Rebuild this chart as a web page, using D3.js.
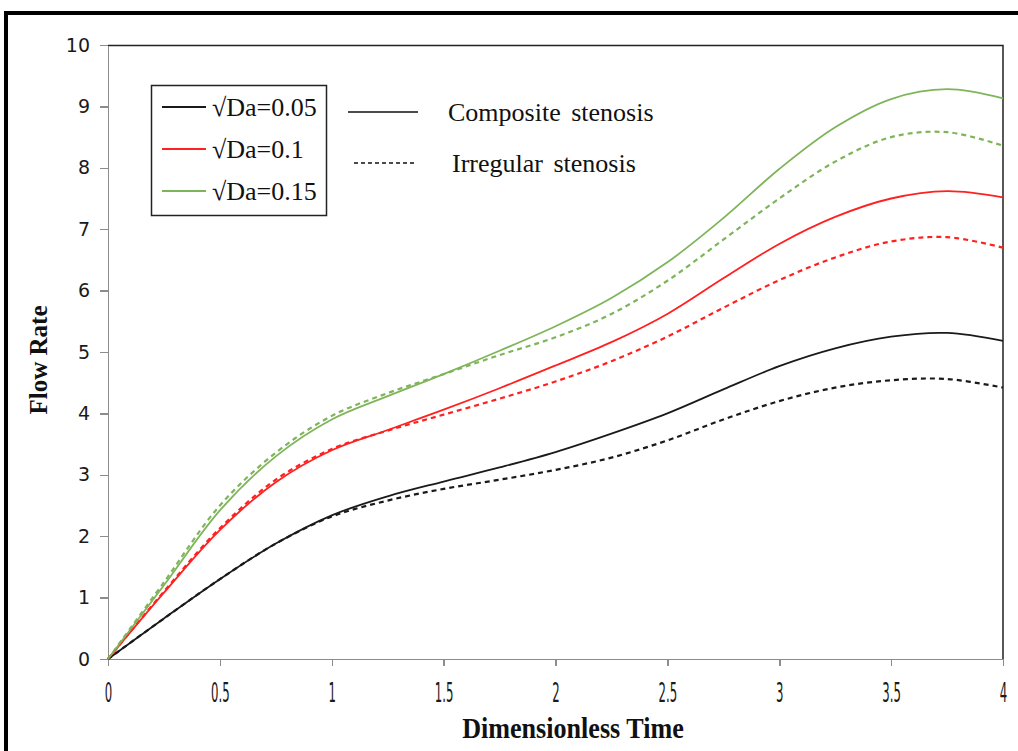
<!DOCTYPE html>
<html>
<head>
<script src="https://d3js.org/d3.v7.min.js"></script>
<style>
  body { margin: 0; background: #fff; }
  svg { display: block; }
  .axis path, .axis line { stroke: #8c8c8c; stroke-width: 1.5; shape-rendering: crispEdges; }
  .y.axis text { font: 19px "DejaVu Sans", sans-serif; fill: #1a1a1a; }
  .x.axis text { font: 26px "DejaVu Sans Condensed", sans-serif; fill: #1a1a1a; }
  .title { font-family: "Liberation Serif", serif; font-weight: bold; fill: #111; }
  .legend text { font-family: "Liberation Serif", serif; font-size: 26px; fill: #111; }
</style>
</head>
<body>
<script>
// dimensionless time samples
var times = [0, 0.25, 0.5, 0.75, 1, 1.25, 1.5, 1.75, 2, 2.25, 2.5, 2.75, 3, 3.25, 3.5, 3.75, 4];

// flow rate, composite stenosis
var compDa005 = [0, 0.66, 1.3, 1.88, 2.34, 2.65, 2.89, 3.12, 3.37, 3.67, 4.0, 4.39, 4.77, 5.06, 5.25, 5.31, 5.18];
var compDa01  = [0, 1.08, 2.1, 2.88, 3.4, 3.73, 4.06, 4.41, 4.78, 5.16, 5.62, 6.2, 6.76, 7.2, 7.5, 7.62, 7.52];
var compDa015 = [0, 1.2, 2.42, 3.3, 3.9, 4.28, 4.64, 5.02, 5.42, 5.88, 6.46, 7.18, 7.98, 8.66, 9.12, 9.28, 9.13];

// flow rate, irregular stenosis
var irrDa005 = [0, 0.66, 1.3, 1.88, 2.32, 2.58, 2.77, 2.92, 3.08, 3.28, 3.56, 3.9, 4.2, 4.42, 4.54, 4.56, 4.42];
var irrDa01  = [0, 1.1, 2.13, 2.92, 3.42, 3.72, 3.98, 4.24, 4.52, 4.85, 5.25, 5.72, 6.17, 6.54, 6.8, 6.87, 6.7];
var irrDa015 = [0, 1.25, 2.5, 3.36, 3.96, 4.33, 4.64, 4.95, 5.24, 5.62, 6.16, 6.83, 7.5, 8.1, 8.5, 8.58, 8.36];

var xTicks = [0, 0.5, 1, 1.5, 2, 2.5, 3, 3.5, 4];
var yTicks = [0, 1, 2, 3, 4, 5, 6, 7, 8, 9, 10];
var daLabels = ["\u221ADa=0.05", "\u221ADa=0.1", "\u221ADa=0.15"];
var daColors = ["#1a1a1a", "#ff2020", "#7fb55a"];
var types = ["Composite stenosis", "Irregular stenosis"];

var W = 1018, H = 751;
var margin = {top: 45, left: 108};
var w = 1003 - margin.left, h = 659 - margin.top;

var svg = d3.select("body").append("svg")
  .attr("width", W)
  .attr("height", H);

// outer frame (runs off the right and bottom edges)
svg.append("rect")
  .attr("x", 6).attr("y", 13)
  .attr("width", 1100).attr("height", 1000)
  .attr("fill", "none").attr("stroke", "#000").attr("stroke-width", 4);

var g = svg.append("g")
  .attr("transform", "translate(" + margin.left + "," + margin.top + ")");

var x = d3.scaleLinear().domain([0, 4]).range([0, w]);
var y = d3.scaleLinear().domain([0, 10]).range([h, 0]);

// top and right border of plot area
g.append("path")
  .attr("d", "M0,0.5H" + w + "V" + h)
  .attr("fill", "none").attr("stroke", "#222").attr("stroke-width", 1.5);

g.append("g")
  .attr("class", "y axis")
  .call(d3.axisLeft(y).tickValues(yTicks).tickSize(8).tickSizeOuter(0).tickPadding(10)
    .tickFormat(d3.format("d")));

var xa = g.append("g")
  .attr("class", "x axis")
  .attr("transform", "translate(0," + h + ")")
  .call(d3.axisBottom(x).tickValues(xTicks).tickSize(7).tickSizeOuter(0)
    .tickFormat(function(d) { return String(d); }));
xa.selectAll("text")
  .attr("y", 25)
  .attr("dy", "0.71em")
  .attr("transform", "scale(0.5,1)");

// curves
var line = d3.line()
  .x(function(d) { return x(d[0]); })
  .y(function(d) { return y(d[1]); })
  .curve(d3.curveCatmullRom.alpha(0.5));

var series = [
  {v: irrDa005, c: 0, dash: true},
  {v: irrDa01, c: 1, dash: true},
  {v: irrDa015, c: 2, dash: true},
  {v: compDa005, c: 0, dash: false},
  {v: compDa01, c: 1, dash: false},
  {v: compDa015, c: 2, dash: false}
];

g.selectAll(".curve")
  .data(series)
  .enter().append("path")
  .attr("class", "curve")
  .attr("fill", "none")
  .attr("stroke", function(d) { return daColors[d.c]; })
  .attr("stroke-width", function(d) { return d.dash ? 2.2 : 1.8; })
  .attr("stroke-dasharray", function(d) { return d.dash ? "5,4" : null; })
  .attr("d", function(d) {
    return line(times.map(function(t, i) { return [t, d.v[i]]; }));
  });

// axis titles
svg.append("text")
  .attr("class", "title")
  .attr("x", 573).attr("y", 738)
  .attr("text-anchor", "middle")
  .attr("font-size", 30)
  .attr("transform", "translate(573,0) scale(0.87,1) translate(-573,0)")
  .text("Dimensionless Time");

svg.append("text")
  .attr("class", "title")
  .attr("text-anchor", "middle")
  .attr("font-size", 25)
  .attr("transform", "translate(47,360) rotate(-90)")
  .text("Flow Rate");

// legend: Da values
var leg = svg.append("g").attr("class", "legend");
leg.append("rect")
  .attr("x", 151.5).attr("y", 85.5)
  .attr("width", 175).attr("height", 130)
  .attr("fill", "#fff").attr("stroke", "#222").attr("stroke-width", 1.5);

var items = leg.selectAll(".item")
  .data(daLabels)
  .enter().append("g")
  .attr("class", "item")
  .attr("transform", function(d, i) { return "translate(0," + (107 + i * 42) + ")"; });
items.append("line")
  .attr("x1", 162).attr("x2", 206)
  .attr("stroke", function(d, i) { return daColors[i]; })
  .attr("stroke-width", 1.8);
items.append("text")
  .attr("x", 212).attr("y", 9)
  .text(function(d) { return d; });

// legend: stenosis type
var tItems = leg.selectAll(".type")
  .data(types)
  .enter().append("g")
  .attr("class", "type")
  .attr("transform", function(d, i) { return "translate(0," + (112 + i * 51) + ")"; });
tItems.append("line")
  .attr("x1", function(d, i) { return i ? 354 : 348; })
  .attr("x2", function(d, i) { return i ? 414 : 418; })
  .attr("stroke", "#111")
  .attr("stroke-width", 1.5)
  .attr("stroke-dasharray", function(d, i) { return i ? "4,3" : null; });
tItems.append("text")
  .attr("x", function(d, i) { return i ? 452 : 448; })
  .attr("y", 9)
  .attr("word-spacing", 4)
  .text(function(d) { return d; });
</script>
</body>
</html>
